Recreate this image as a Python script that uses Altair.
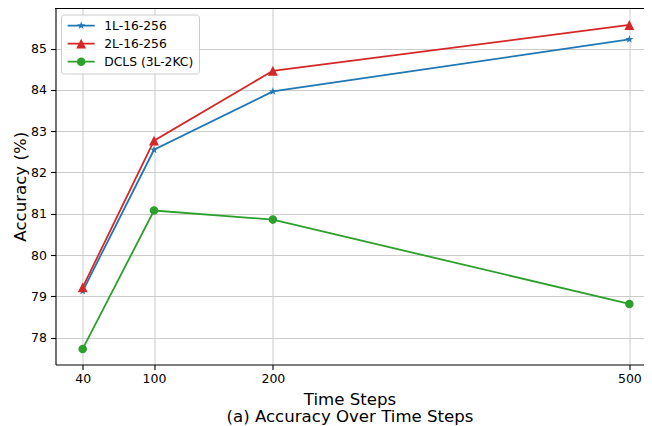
import math
import altair as alt
import pandas as pd

# ---- data ----
steps = [40, 100, 200, 500]
series_names = ["1L-16-256", "2L-16-256", "DCLS (3L-2KC)"]
acc_1l = [79.13, 82.55, 83.96, 85.22]
acc_2l = [79.22, 82.77, 84.46, 85.57]
acc_dcls = [77.73, 81.08, 80.86, 78.82]
y_ticks = [78, 79, 80, 81, 82, 83, 84, 85]
colors = ["#1f77b4", "#d62728", "#2ca02c"]
marker_names = ["star", "triangle", "circle"]

rows = []
for name, hexcol, mk, vals in zip(series_names, colors, marker_names,
                                  [acc_1l, acc_2l, acc_dcls]):
    for s, v in zip(steps, vals):
        rows.append({"series": name, "hex": hexcol, "marker": mk, "step": s, "acc": v})
df = pd.DataFrame(rows)

# ---- marker shapes (unit paths) ----
def star_path(r_out=0.95, ratio=0.382):
    pts = []
    for k in range(10):
        r = r_out if k % 2 == 0 else r_out * ratio
        a = -math.pi / 2 + k * math.pi / 5
        pts.append(f"{r*math.cos(a):.3f},{r*math.sin(a):.3f}")
    return "M" + "L".join(pts) + "Z"

STAR = star_path()
TRI = "M0,-1.1L1.1,1.1L-1.1,1.1Z"
CIRC = "M-0.95,0A0.95,0.95,0,1,1,0.95,0A0.95,0.95,0,1,1,-0.95,0Z"
LINE = "M-3,-0.2H3V0.2H-3Z"
shapes = [STAR, TRI, CIRC]

legend_shape_expr = (
    f"datum.value === '{series_names[0]}' ? '{LINE}{STAR}' : "
    f"datum.value === '{series_names[1]}' ? '{LINE}{TRI}' : '{LINE}{CIRC}'"
)

FONT = "DejaVu Sans"
W, H = 588, 356.5

x_scale = alt.Scale(domain=[17.1, 511.9], nice=False, zero=False)
y_scale = alt.Scale(domain=[77.354, 85.98], nice=False, zero=False)

x_enc = alt.X(
    "step:Q",
    scale=x_scale,
    axis=alt.Axis(
        values=steps,
        title=["Time Steps", "(a) Accuracy Over Time Steps"],
        titleLineHeight=17,
        titlePadding=6,
        labelPadding=3,
    ),
)
y_enc = alt.Y(
    "acc:Q",
    scale=y_scale,
    axis=alt.Axis(
        values=y_ticks,
        format="d",
        title="Accuracy (%)",
        titleX=-35,
        titleY=H / 2,
        titleAngle=-90,
        titleAlign="center",
        titleBaseline="middle",
        labelPadding=4,
    ),
)

lines = alt.Chart(df).mark_line(strokeWidth=1.8).encode(
    x=x_enc,
    y=y_enc,
    color=alt.Color("hex:N", scale=None),
    detail="series:N",
)

points = alt.Chart(df).mark_point(filled=True, size=81, opacity=1).encode(
    x=alt.X("step:Q", scale=x_scale),
    y=alt.Y("acc:Q", scale=y_scale),
    color=alt.Color(
        "series:N",
        scale=alt.Scale(domain=series_names, range=colors),
        legend=alt.Legend(
            title=None,
            orient="none",
            legendX=5.5,
            legendY=6.5,
            direction="vertical",
            labelFont=FONT,
            labelFontSize=12.3,
            labelColor="black",
            symbolType={"expr": legend_shape_expr},
            symbolSize=81,
            symbolOffset=9,
            symbolOpacity=1,
            symbolStrokeWidth=0,
            labelOffset=17,
            rowPadding=5,
            padding=5,
            strokeColor="#cccccc",
            fillColor="rgba(255,255,255,0.85)",
            cornerRadius=3,
        ),
    ),
    shape=alt.Shape(
        "marker:N", scale=alt.Scale(domain=marker_names, range=shapes), legend=None
    ),
)

top_spine = alt.Chart(df).mark_rule(color="black", strokeWidth=1.1).encode(
    x=alt.value(0), x2=alt.value(W), y=alt.value(0)
)

chart = (
    alt.layer(lines, points, top_spine)
    .properties(
        width=W,
        height=H,
        autosize=alt.AutoSizeParams(type="none"),
        padding={"left": 47.5, "top": 0, "right": 0, "bottom": 60},
        background="white",
    )
    .configure_view(stroke=None)
    .configure_axis(
        domainColor="black",
        domainWidth=1.1,
        tickColor="black",
        tickSize=5,
        tickWidth=1.1,
        labelFont=FONT,
        labelFontSize=12.5,
        labelColor="black",
        gridColor="#cccccc",
        gridWidth=1,
        titleFont=FONT,
        titleFontSize=16.6,
        titleFontWeight="normal",
        titleColor="black",
    )
)

chart.save("out.html", embed_options={"renderer": "svg", "actions": False})
